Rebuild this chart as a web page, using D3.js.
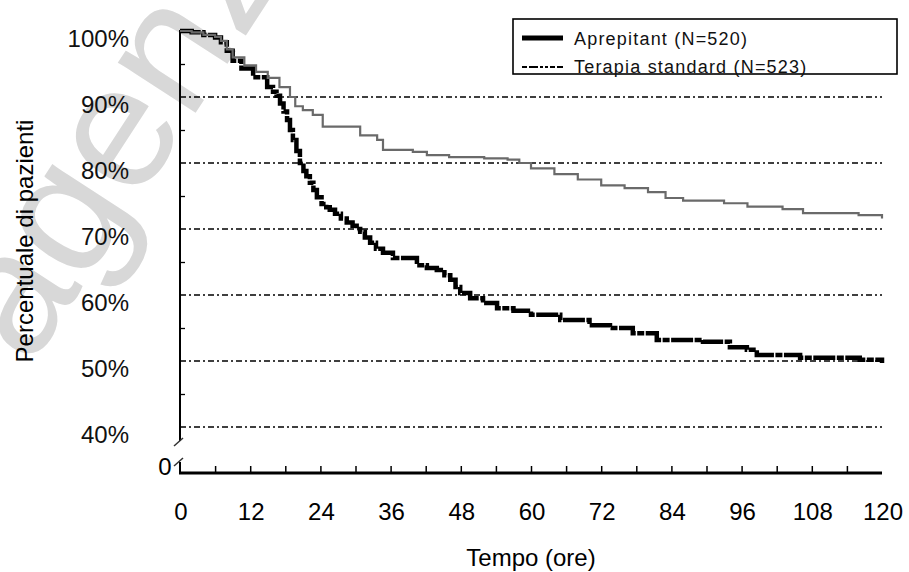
<!DOCTYPE html>
<html>
<head>
<meta charset="utf-8">
<script src="https://cdn.jsdelivr.net/npm/d3@7"></script>
<style>
  body { margin: 0; background: #fff; }
  svg { display: block; font-family: "Liberation Sans", Arial, sans-serif; }
</style>
</head>
<body>
<div id="chart"></div>
<script>
// ── Data ─────────────────────────────────────────────────────────────
const aprepitantT = [0, 2, 4, 6, 7, 8, 9, 11, 13, 15, 17, 18.8, 19.7, 21, 22.7, 24.4, 28.5, 30.8, 33.7, 34.7, 39.8, 42.2, 46, 52, 56, 58, 60, 64, 68, 72, 76, 80, 83, 86, 93, 97, 103, 106.5, 116, 120];
const aprepitantV = [100, 99.8, 99.4, 99.1, 98.5, 97.2, 96, 94.8, 93.8, 92.9, 91.5, 90, 88.6, 88, 87.3, 85.5, 85.5, 84.2, 83.5, 82, 81.7, 81.2, 80.9, 80.7, 80.5, 80, 79.2, 78.3, 77.5, 76.6, 76.2, 75.6, 74.7, 74.3, 73.9, 73.4, 73, 72.4, 72.1, 71.6];

const standardT = [0, 2, 4, 6, 7, 8, 9, 10.5, 12.5, 14.9, 15.9, 16.5, 17.1, 17.7, 18.3, 18.8, 19.3, 19.9, 20.5, 21.1, 21.6, 22.2, 22.8, 23.4, 24.2, 25, 25.6, 26.5, 27.5, 28.5, 29.5, 30.2, 30.8, 31.6, 32.5, 33.5, 34.7, 36.4, 38.8, 40.5, 42.2, 43.9, 45.2, 46.2, 47.1, 47.9, 49.6, 51.8, 54.2, 57, 60, 65, 70, 73.5, 77.4, 81.5, 89.4, 94, 96.9, 98.6, 106, 116.2, 120];
const standardV = [100, 99.8, 99.4, 99, 98.3, 97, 95.5, 94.3, 93, 91.5, 90.8, 90.2, 89, 87.8, 86.5, 85, 83.5, 81.8, 80, 78.8, 78, 77, 75.9, 74.8, 73.8, 73.3, 72.9, 72.3, 71.6, 71, 70.5, 70, 69.6, 68.7, 67.9, 67, 66.4, 65.6, 65.6, 64.5, 64.1, 63.8, 63, 62.3, 61.2, 60.3, 59.5, 58.8, 58, 57.6, 57, 56.2, 55.4, 55, 54.2, 53.2, 52.9, 52.1, 51.7, 50.9, 50.5, 50.2, 49.7];

const xTicks = [0, 12, 24, 36, 48, 60, 72, 84, 96, 108, 120];
const xMinorTicks = d3.range(6, 120, 6);
const yTicks = [100, 90, 80, 70, 60, 50, 40];
const yGrid = [90, 80, 70, 60, 50, 40];
const yMinorTicks = [95, 85, 75, 65, 55, 45];
const legendLabels = ["Aprepitant (N=520)", "Terapia standard (N=523)"];

// ── SVG ──────────────────────────────────────────────────────────────
const W = 909, H = 572;
const svg = d3.select("#chart").append("svg")
    .attr("width", W).attr("height", H);

// watermark (under everything)
svg.append("text")
    .attr("transform", "translate(30,368) rotate(-57)")
    .style("font-size", "175px")
    .style("fill", "#d8d8d8")
    .text("agenzia");

const x = d3.scaleLinear().domain([0, 120]).range([180, 882]);
const y = d3.scaleLinear().domain([40, 100]).range([427, 31]);
const xAxisY = 473;

// ── Grid lines ───────────────────────────────────────────────────────
svg.append("g").selectAll("line")
    .data(yGrid)
    .join("line")
    .attr("x1", x(0)).attr("x2", x(120))
    .attr("y1", d => y(d)).attr("y2", d => y(d))
    .style("stroke", "#000")
    .style("stroke-width", 1.6)
    .style("stroke-dasharray", "6,3,2,3");

// ── Y axis (broken) ──────────────────────────────────────────────────
const yAxisG = svg.append("g").attr("transform", `translate(${x(0)},0)`);
yAxisG.call(d3.axisRight(y).tickValues(yMinorTicks).tickSize(5).tickFormat(""));
yAxisG.select(".domain").remove();
yAxisG.selectAll("line").style("stroke-width", 1.3);
yAxisG.append("line")
    .attr("x1", 0).attr("x2", 0)
    .attr("y1", y(100) - 1).attr("y2", 441)
    .style("stroke", "#000").style("stroke-width", 2);
yAxisG.append("line")
    .attr("x1", 0).attr("x2", 0)
    .attr("y1", 462).attr("y2", xAxisY)
    .style("stroke", "#000").style("stroke-width", 2);
// break marks
[441, 461].forEach(yy => {
    svg.append("line")
        .attr("x1", x(0) - 6).attr("y1", yy + 5)
        .attr("x2", x(0) + 3).attr("y2", yy - 3)
        .style("stroke", "#333").style("stroke-width", 1.5);
});

svg.append("g").selectAll("text")
    .data(yTicks)
    .join("text")
    .attr("x", 129)
    .attr("y", d => y(d) + 16)
    .attr("text-anchor", "end")
    .style("font-size", "24px")
    .style("fill", "#111")
    .text(d => d + "%");

svg.append("text")
    .attr("x", 165).attr("y", 475)
    .attr("text-anchor", "middle")
    .style("font-size", "24px")
    .text("0");

svg.append("text")
    .attr("transform", `translate(33,241) rotate(-90)`)
    .attr("text-anchor", "middle")
    .style("font-size", "24px")
    .text("Percentuale di pazienti");

// ── X axis ───────────────────────────────────────────────────────────
const xAxisG = svg.append("g").attr("transform", `translate(0,${xAxisY})`);
xAxisG.call(d3.axisTop(x).tickValues(xMinorTicks).tickSize(7).tickFormat(""));
xAxisG.select(".domain").remove();
xAxisG.selectAll("line").style("stroke-width", 1.5);
xAxisG.append("line")
    .attr("x1", x(0) - 1).attr("x2", x(120))
    .attr("y1", 0).attr("y2", 0)
    .style("stroke", "#000").style("stroke-width", 3);

svg.append("g").selectAll("text")
    .data(xTicks)
    .join("text")
    .attr("x", d => x(d) + 1)
    .attr("y", 520)
    .attr("text-anchor", "middle")
    .style("font-size", "24px")
    .text(d => d);

svg.append("text")
    .attr("x", 531).attr("y", 566)
    .attr("text-anchor", "middle")
    .style("font-size", "24px")
    .text("Tempo (ore)");

// ── Curves ───────────────────────────────────────────────────────────
const line = d3.line()
    .x(d => x(d[0])).y(d => y(d[1]))
    .curve(d3.curveStepAfter);

svg.append("path")
    .datum(d3.zip(standardT, standardV))
    .attr("d", line)
    .style("fill", "none")
    .style("stroke", "#000")
    .style("stroke-width", 4.5)
    .style("stroke-dasharray", "22,1.5,7,1.5");

svg.append("path")
    .datum(d3.zip(aprepitantT, aprepitantV))
    .attr("d", line)
    .style("fill", "none")
    .style("stroke", "#6a6a6a")
    .style("stroke-width", 2.2);

// ── Legend ───────────────────────────────────────────────────────────
const lg = svg.append("g");
lg.append("rect")
    .attr("x", 513).attr("y", 19)
    .attr("width", 384).attr("height", 55)
    .style("fill", "#fff")
    .style("stroke", "#000").style("stroke-width", 1.6);
lg.append("line")
    .attr("x1", 522).attr("x2", 563).attr("y1", 38).attr("y2", 38)
    .style("stroke", "#000").style("stroke-width", 5);
lg.append("line")
    .attr("x1", 522).attr("x2", 563).attr("y1", 67).attr("y2", 67)
    .style("stroke", "#000").style("stroke-width", 2.2)
    .style("stroke-dasharray", "5,2,9,2,3,2,3,2");
legendLabels.forEach((t, i) => {
    lg.append("text")
        .attr("x", 574).attr("y", 45 + i * 28)
        .style("font-size", "18px")
        .style("letter-spacing", "1.2px")
        .style("fill", "#111")
        .text(t);
});
</script>
</body>
</html>
